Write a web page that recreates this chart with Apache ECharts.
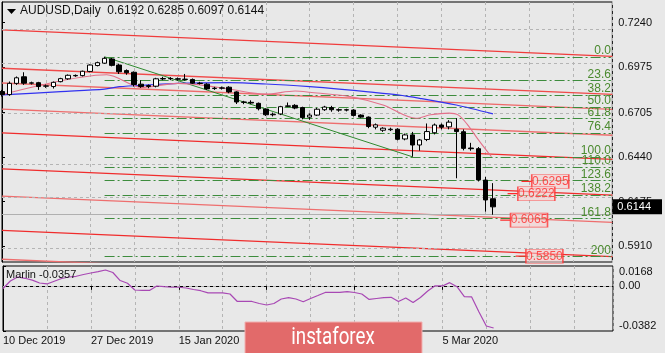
<!DOCTYPE html>
<html>
<head>
<meta charset="utf-8">
<title>AUDUSD,Daily</title>
<script src="https://cdn.jsdelivr.net/npm/echarts@6/dist/echarts.min.js"></script>
<style>
  html, body { margin: 0; padding: 0; background: #e8e8e8; }
  #main { width: 665px; height: 353px; }
</style>
</head>
<body>
<div id="main"></div>
<script>
// daily bars from 10 Dec 2019 to 16 Mar 2020, x = bar number
var opens  = [0.6830,0.6812,0.6879,0.6918,0.6880,0.6883,0.6862,0.6860,0.6889,0.6906,0.6926,0.6925,0.6950,0.6985,0.6999,0.7024,0.6988,0.6955,0.6945,0.6874,0.6860,0.6862,0.6905,0.6908,0.6906,0.6904,0.6902,0.6880,0.6874,0.6848,0.6850,0.6856,0.6828,0.6768,0.6766,0.6760,0.6726,0.6692,0.6697,0.6742,0.6748,0.6735,0.6678,0.6690,0.6722,0.6735,0.6722,0.6720,0.6720,0.6690,0.6678,0.6618,0.6600,0.6603,0.6606,0.6548,0.6572,0.6512,0.6545,0.6585,0.6631,0.6620,0.6606,0.6591,0.6494,0.6490,0.6303,0.6192];
var highs  = [0.6840,0.6890,0.6920,0.6945,0.6889,0.6888,0.6872,0.6890,0.6912,0.6932,0.6932,0.6955,0.6992,0.7008,0.7037,0.7030,0.6995,0.6962,0.6950,0.6898,0.6872,0.6912,0.6918,0.6916,0.6914,0.6935,0.6908,0.6888,0.6880,0.6858,0.6860,0.6862,0.6832,0.6775,0.6778,0.6765,0.6730,0.6705,0.6745,0.6765,0.6755,0.6740,0.6700,0.6733,0.6745,0.6745,0.6730,0.6728,0.6725,0.6695,0.6682,0.6640,0.6618,0.6615,0.6612,0.6580,0.6590,0.6548,0.6640,0.6640,0.6640,0.6660,0.6672,0.6605,0.6525,0.6500,0.6322,0.6285];
var lows   = [0.6800,0.6805,0.6870,0.6870,0.6872,0.6840,0.6852,0.6848,0.6885,0.6900,0.6918,0.6920,0.6945,0.6980,0.6995,0.6980,0.6935,0.6930,0.6860,0.6852,0.6850,0.6855,0.6898,0.6898,0.6895,0.6895,0.6875,0.6872,0.6840,0.6840,0.6842,0.6820,0.6756,0.6755,0.6755,0.6718,0.6685,0.6682,0.6690,0.6738,0.6725,0.6665,0.6662,0.6685,0.6715,0.6710,0.6710,0.6712,0.6682,0.6672,0.6612,0.6605,0.6590,0.6595,0.6540,0.6540,0.6442,0.6478,0.6535,0.6575,0.6605,0.6605,0.6314,0.6480,0.6478,0.6295,0.6115,0.6097];
var closes = [0.6812,0.6879,0.6912,0.6880,0.6882,0.6860,0.6864,0.6885,0.6907,0.6927,0.6924,0.6951,0.6988,0.7002,0.7028,0.6986,0.6948,0.6942,0.6872,0.6860,0.6866,0.6906,0.6908,0.6906,0.6904,0.6902,0.6880,0.6878,0.6846,0.6850,0.6852,0.6828,0.6768,0.6766,0.6762,0.6728,0.6692,0.6695,0.6740,0.6745,0.6732,0.6675,0.6690,0.6725,0.6738,0.6722,0.6720,0.6722,0.6688,0.6678,0.6622,0.6632,0.6612,0.6606,0.6546,0.6572,0.6512,0.6542,0.6592,0.6631,0.6618,0.6648,0.6592,0.6492,0.6490,0.6304,0.6185,0.6144];

// Marlin oscillator, one value per bar
var marlin = [-0.0022,0.0041,0.0075,0.0064,0.0048,0.0024,0.0016,0.0039,0.0062,0.0075,0.0081,0.0096,0.0109,0.0120,0.0134,0.0113,0.0045,0.0022,-0.0035,-0.0038,-0.0039,-0.0001,-0.0007,-0.0012,-0.0012,-0.0018,-0.0031,-0.0041,-0.0060,-0.0060,-0.0059,-0.0069,-0.0132,-0.0131,-0.0132,-0.0149,-0.0162,-0.0149,-0.0111,-0.0100,-0.0111,-0.0134,-0.0107,-0.0082,-0.0056,-0.0055,-0.0055,-0.0049,-0.0056,-0.0069,-0.0115,-0.0107,-0.0099,-0.0097,-0.0132,-0.0103,-0.0141,-0.0099,-0.0044,0.0000,-0.0001,0.0027,-0.0007,-0.0092,-0.0094,-0.0221,-0.0340,-0.0357];

var dateTickIdx  = [0, 12, 24, 36, 48, 60];
var dateTickText = ['10 Dec 2019', '27 Dec 2019', '15 Jan 2020', '31 Jan 2020', '18 Feb 2020', '5 Mar 2020'];
var priceTicks  = [0.7240, 0.6975, 0.6705, 0.6440, 0.6175, 0.5910];
var marlinTicks = [0.0168, 0, -0.0382];

// moving averages
var blueIdx = [0, 8, 14, 16, 20, 24, 31, 36, 42, 46, 50, 54, 57, 62, 67];
var blueVal = [0.6810, 0.6830, 0.6845, 0.6859, 0.6870, 0.6879, 0.6883, 0.6875, 0.6859, 0.6845, 0.6828, 0.6810, 0.6790, 0.6750, 0.6697];
var pinkIdx = [0, 14.3, 19, 24, 27, 31, 36, 40, 42, 47.5, 52, 56.5, 58.5, 61, 62.3, 63.5, 65.2, 66.8];
var pinkVal = [0.6812, 0.6930, 0.6855, 0.6879, 0.6870, 0.6845, 0.6815, 0.6833, 0.6826, 0.6800, 0.6750, 0.6671, 0.6692, 0.6702, 0.6690, 0.6635, 0.6532, 0.6442];

// parallel red channel lines: price at left edge and at right edge
var channelLeft  = [0.7197, 0.6969, 0.6881, 0.6726, 0.6584, 0.6370, 0.6208, 0.6004, 0.5832];
var channelRight = [0.7040, 0.6813, 0.6724, 0.6570, 0.6427, 0.6214, 0.6052, 0.5848, 0.5676];

// fibonacci grid
var fibLevels = [0, 23.6, 38.2, 50, 61.8, 76.4, 100, 110, 123.6, 138.2, 161.8, 200];
var fibText   = ['0.0', '23.6', '38.2', '50.0', '61.8', '76.4', '100.0', '110.0', '123.6', '138.2', '161.8', '200'];
var fibHigh = 0.7037, fibLow = 0.6442, fibStartIdx = 14;

var trendIdx = [14, 56];
var trendVal = [0.7037, 0.6442];

// red price labels
var boxIdx   = [72.3, 70.4, 69.4, 71.5];
var boxPrice = [0.6295, 0.6222, 0.6065, 0.5850];

var FONT = 'Liberation Sans';
var X_MAX = 83.3;
var Y_MIN = 0.58156, Y_MAX = 0.73632;
var last = closes.length - 1;

var chart = echarts.init(document.getElementById('main'));

var series = [];

// horizontal grid + bid line
series.push({
  type: 'line', data: [], xAxisIndex: 0, yAxisIndex: 0, z: 1, silent: true,
  markLine: {
    silent: true, symbol: 'none', animation: false,
    label: { show: false },
    lineStyle: { color: '#b4b4b4', type: [3, 3], width: 1 },
    data: priceTicks.map(function (p) { return { yAxis: p }; }).concat([
      { yAxis: closes[last], lineStyle: { color: '#b0b0b0', type: 'solid', width: 1 } }
    ])
  }
});

// channel lines
var chColors = ['#f03c3c', '#f04a4a', '#ee6a6a', '#ee6e6e', '#f02c2c', '#f02c2c', '#ee6e6e', '#f02c2c', '#ee6e6e'];
channelLeft.forEach(function (v, i) {
  series.push({
    type: 'line', xAxisIndex: 0, yAxisIndex: 0, symbol: 'none', z: 2, silent: true,
    data: [[0, v], [X_MAX, channelRight[i]]],
    lineStyle: { color: chColors[i], width: 1.3 }
  });
});

// fibonacci levels
series.push({
  type: 'line', data: [], xAxisIndex: 0, yAxisIndex: 0, z: 3, silent: true,
  markLine: {
    silent: true, symbol: 'none', animation: false,
    lineStyle: { color: '#3d8c3d', type: [10, 3, 2, 3], width: 1 },
    label: { show: true, position: 'insideEndTop', distance: 0, color: '#4a8a2e', fontSize: 12, fontFamily: FONT },
    data: fibLevels.map(function (lv, i) {
      var p = fibHigh - lv / 100 * (fibHigh - fibLow);
      return [
        { coord: [fibStartIdx, p], label: { formatter: fibText[i] } },
        { coord: [X_MAX - 0.2, p] }
      ];
    })
  }
});

// green trend line
series.push({
  type: 'line', xAxisIndex: 0, yAxisIndex: 0, symbol: 'none', z: 4, silent: true,
  data: trendIdx.map(function (x, i) { return [x, trendVal[i]]; }),
  lineStyle: { color: '#2f8a2f', width: 1 }
});

// blue and pink averages
series.push({
  type: 'line', xAxisIndex: 0, yAxisIndex: 0, symbol: 'none', z: 5, smooth: 0.3, silent: true,
  data: blueIdx.map(function (x, i) { return [x, blueVal[i]]; }),
  lineStyle: { color: '#3232f0', width: 1.2 }
});
series.push({
  type: 'line', xAxisIndex: 0, yAxisIndex: 0, symbol: 'none', z: 5, smooth: 0.3, silent: true,
  data: pinkIdx.map(function (x, i) { return [x, pinkVal[i]]; }),
  lineStyle: { color: '#e4708a', width: 1.1 }
});

// candles
series.push({
  type: 'candlestick', xAxisIndex: 0, yAxisIndex: 0, z: 6, barWidth: 5, silent: true,
  encode: { x: 0, y: [1, 2, 3, 4] },
  data: opens.map(function (o, i) { return [i, o, closes[i], lows[i], highs[i]]; }),
  itemStyle: { color: '#ffffff', color0: '#000000', borderColor: '#000000', borderColor0: '#000000', borderWidth: 1 }
});

// red price labels with their short leader lines
boxIdx.forEach(function (x, i) {
  series.push({
    type: 'line', xAxisIndex: 0, yAxisIndex: 0, symbol: 'none', z: 7, silent: true,
    data: [[x - 1.4, boxPrice[i]], [x, boxPrice[i]]],
    lineStyle: { color: '#ff2a2a', width: 1.2 }
  });
});
series.push({
  type: 'scatter', xAxisIndex: 0, yAxisIndex: 0, z: 8, silent: true,
  symbol: 'rect', symbolSize: [37, 14], symbolOffset: [18.5, 0],
  data: boxIdx.map(function (x, i) { return [x, boxPrice[i]]; }),
  itemStyle: { color: 'rgba(248,205,205,0.7)', borderColor: '#ff3636', borderWidth: 1 },
  label: {
    show: true, position: 'inside', color: '#ff2a2a', fontSize: 12, fontFamily: FONT,
    formatter: function (p) { return p.value[1].toFixed(4); }
  }
});

// Marlin
series.push({
  type: 'line', xAxisIndex: 1, yAxisIndex: 2, symbol: 'none', z: 5, silent: true,
  data: marlin.map(function (v, i) { return [i, v]; }),
  lineStyle: { color: '#a848b4', width: 1.2 },
  markLine: {
    silent: true, symbol: 'none', animation: false, label: { show: false },
    lineStyle: { color: '#b4b4b4', type: [3, 3], width: 1 },
    data: [{ yAxis: 0 }]
  }
});

var splitStyle = { show: true, lineStyle: { color: '#b4b4b4', type: [3, 3], width: 1 } };

chart.setOption({
  animation: false,
  backgroundColor: '#e8e8e8',
  textStyle: { fontFamily: FONT },
  title: [
    {
      text: 'AUDUSD,Daily  ' + [opens[last], highs[last], lows[last], closes[last]].map(function (v) { return v.toFixed(4); }).join(' '),
      left: 20, top: 5, padding: 0,
      textStyle: { fontSize: 12, fontWeight: 'normal', color: '#111', fontFamily: FONT }
    },
    {
      text: 'Marlin ' + marlin[last].toFixed(4),
      left: 6, top: 269, padding: 0,
      textStyle: { fontSize: 11, fontWeight: 'normal', color: '#111', fontFamily: FONT }
    }
  ],
  grid: [
    { left: 2, right: 52, top: 2, height: 260, show: true, borderColor: '#000', borderWidth: 1, backgroundColor: 'transparent' },
    { left: 2, right: 52, top: 266, height: 65, show: true, borderColor: '#000', borderWidth: 1, backgroundColor: 'transparent' }
  ],
  xAxis: [
    { gridIndex: 0, type: 'value', min: 0, max: X_MAX, interval: 6,
      axisLine: { show: false }, axisTick: { show: false }, axisLabel: { show: false }, splitLine: splitStyle },
    { gridIndex: 1, type: 'value', min: 0, max: X_MAX, position: 'bottom',
      axisLine: { show: true, lineStyle: { color: '#000' } },
      axisTick: { show: true, customValues: dateTickIdx, length: 4, lineStyle: { color: '#000' } },
      axisLabel: { customValues: dateTickIdx, align: 'left', margin: 4, color: '#111', fontSize: 11, fontFamily: FONT,
        formatter: function (v) { var k = dateTickIdx.indexOf(v); return k < 0 ? '' : dateTickText[k]; } },
      splitLine: { show: false } },
    { gridIndex: 1, type: 'value', min: 0, max: X_MAX, interval: 6, position: 'top',
      axisLine: { show: false }, axisTick: { show: false }, axisLabel: { show: false }, splitLine: splitStyle }
  ],
  yAxis: [
    { gridIndex: 0, type: 'value', position: 'right', min: Y_MIN, max: Y_MAX,
      axisLine: { show: true, lineStyle: { color: '#000' } },
      axisTick: { show: true, customValues: priceTicks, length: 3, lineStyle: { color: '#000' } },
      axisLabel: { customValues: priceTicks, margin: 6, color: '#111', fontSize: 11, fontFamily: FONT,
        formatter: function (v) { return v.toFixed(4); } },
      splitLine: { show: false } },
    { gridIndex: 0, type: 'value', position: 'right', min: Y_MIN, max: Y_MAX, z: 10,
      axisLine: { show: false }, axisTick: { show: false },
      axisLabel: { customValues: [closes[last]], margin: 0, color: '#fff', backgroundColor: '#000',
        padding: [2, 11, 2, 5], fontSize: 11, fontFamily: FONT,
        formatter: function (v) { return v.toFixed(4); } },
      splitLine: { show: false } },
    { gridIndex: 1, type: 'value', position: 'right', min: marlinTicks[2], max: marlinTicks[0],
      axisLine: { show: true, lineStyle: { color: '#000' } },
      axisTick: { show: true, customValues: marlinTicks, length: 3, lineStyle: { color: '#000' } },
      axisLabel: { customValues: marlinTicks, margin: 6, color: '#111', fontSize: 11, fontFamily: FONT,
        verticalAlignMinLabel: 'top', verticalAlignMaxLabel: 'bottom',
        formatter: function (v) { return v === 0 ? '0.00' : v.toFixed(4); } },
      splitLine: { show: false } }
  ],
  graphic: [
    { type: 'polygon', shape: { points: [[7, 9], [16, 9], [11.5, 14]] }, style: { fill: '#000' }, z: 100 },
    { type: 'rect', shape: { x: 245, y: 322, width: 177, height: 34 }, style: { fill: '#e26a6a', stroke: '#f2b0b0', lineWidth: 1 }, z: 100 },
    { type: 'text', x: 333, y: 338, scaleX: 0.78, z: 101,
      style: { text: 'instaforex', fill: '#ffffff', font: '24px Roboto', textAlign: 'center', textVerticalAlign: 'middle' } }
  ],
  series: series
});
</script>
</body>
</html>
